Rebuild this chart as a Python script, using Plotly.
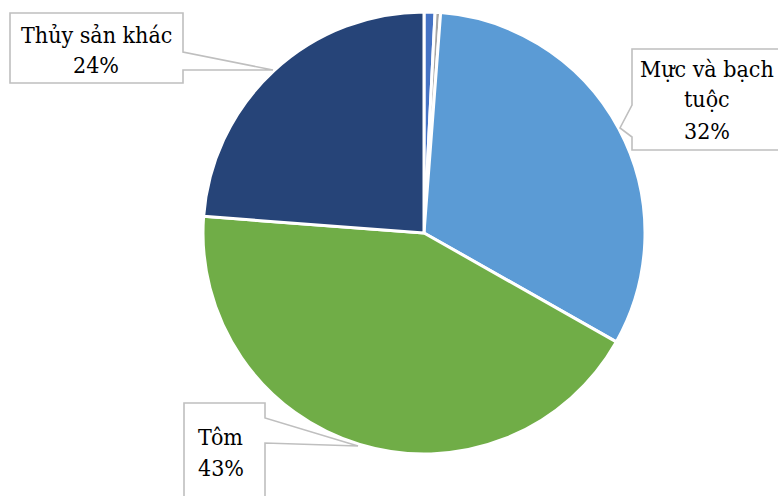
import plotly.graph_objects as go

# Share of seafood export value by product group (%)
categories = ["Nhóm nhỏ 1", "Nhóm nhỏ 2", "Mực và bạch tuộc", "Tôm", "Thủy sản khác"]
values = [0.8, 0.4, 32.0, 43.0, 23.8]
colors = ["#4472C4", "#A5A5A5", "#5B9BD5", "#70AD47", "#264478"]

# label text lines for the three callouts (percent filled from values)
callout_names = {
    "Thủy sản khác": ["Thủy sản khác"],
    "Mực và bạch tuộc": ["Mực và bạch", "tuộc"],
    "Tôm": ["Tôm"],
}

W, H = 778, 496
SERIF = "DejaVu Serif Condensed"


def px(x):
    return x / W


def py(y):
    return 1 - y / H


fig = go.Figure(
    go.Pie(
        labels=categories,
        values=values,
        sort=False,
        direction="clockwise",
        rotation=0,
        marker=dict(colors=colors, line=dict(color="white", width=3)),
        textinfo="none",
        hoverinfo="label+percent",
        showlegend=False,
        domain=dict(x=[px(203), px(645)], y=[py(454), py(12)]),
    )
)

total = sum(values)


def pct(name):
    return f"{round(values[categories.index(name)] / total * 100)}%"


def path(points):
    s = "M " + " L ".join(f"{px(x):.5f},{py(y):.5f}" for x, y in points) + " Z"
    return s


box_style = dict(type="path", xref="paper", yref="paper",
                 line=dict(color="#BFBFBF", width=1.6), fillcolor="white", layer="above")

shapes = [
    dict(path=path([(10, 13), (183, 13), (183, 52), (273, 70), (183, 70), (183, 83), (10, 83)]), **box_style),
    dict(path=path([(632, 49), (782, 49), (782, 150), (632, 150), (632, 137), (620, 128), (632, 105)]), **box_style),
    dict(path=path([(184, 403), (265, 403), (265, 418), (358, 446), (265, 443), (265, 500), (184, 500)]), **box_style),
]

# callout text lines: (name, center x, list of line center y)
layout_lines = [
    ("Thủy sản khác", 96, [35, 65]),
    ("Mực và bạch tuộc", 707, [69, 99, 131]),
    ("Tôm", 221, [437, 468]),
]

annotations = []
for name, cx, ys in layout_lines:
    lines = callout_names[name] + [pct(name)]
    for text, cy in zip(lines, ys):
        annotations.append(dict(
            x=px(cx), y=py(cy), xref="paper", yref="paper",
            text=text, showarrow=False, xanchor="center", yanchor="middle",
            font=dict(family=SERIF, size=23, color="#000000"),
        ))

fig.update_layout(
    width=W, height=H,
    margin=dict(l=0, r=0, t=0, b=0),
    paper_bgcolor="white", plot_bgcolor="white",
    font=dict(family=SERIF),
    shapes=shapes, annotations=annotations,
)

fig.write_html("out.html")
